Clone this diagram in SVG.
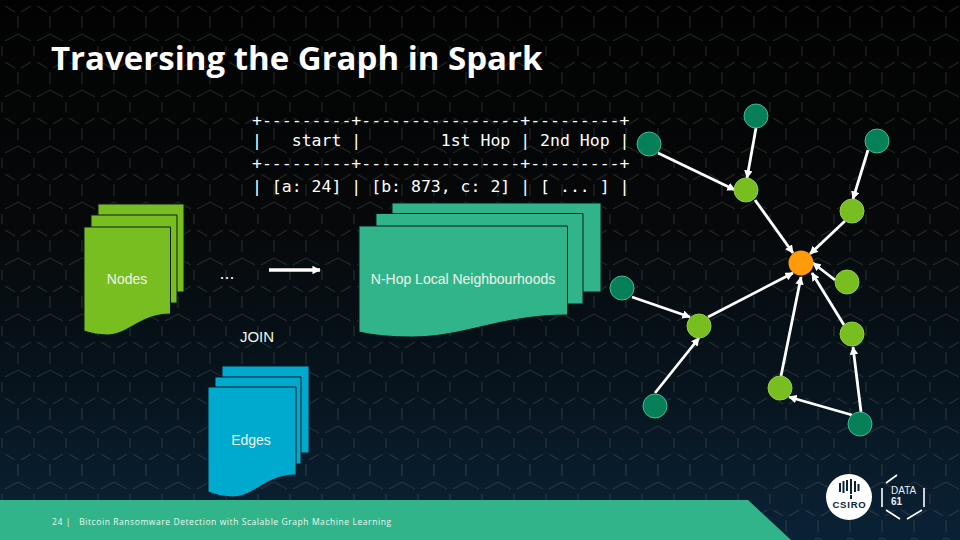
<svg xmlns="http://www.w3.org/2000/svg" width="960" height="540" viewBox="0 0 960 540">
<style>
.sans{font-family:"Liberation Sans",Arial,sans-serif;fill:#eef5ea;font-size:14px;text-anchor:middle}
.mono{font-family:"DejaVu Sans Mono",monospace;fill:#fff;font-size:16.5px;white-space:pre}
.doc{stroke:#0a1a22;stroke-width:1}
.dark{fill:#07805a;stroke:#3fb98f;stroke-width:1}
.light{fill:#78be20;stroke:#8fd040;stroke-width:1}
.edge{stroke:#fff;stroke-width:2.800;fill:none;marker-end:url(#tip)}
</style>
<defs>
<linearGradient id="bg" x1="0" y1="0" x2="0" y2="1">
<stop offset="0" stop-color="#020202"/><stop offset="0.4" stop-color="#060809"/><stop offset="0.7" stop-color="#07131c"/><stop offset="1" stop-color="#0a2236"/>
</linearGradient>
<pattern id="hex" width="32" height="56" patternUnits="userSpaceOnUse" x="2" y="13">
<path d="M16 3V15M16 21L29 28M16 21L3 28M0 33V43M32 33V43M3 49L13 55M29 49L19 55" fill="none" stroke="#8a8a8a" stroke-opacity="0.2" stroke-width="1.4"/>
</pattern>
<marker id="tip" viewBox="0 0 10 10" refX="9" refY="5" markerWidth="3" markerHeight="3" orient="auto"><path d="M0 0L10 5L0 10Z" fill="#fff"/></marker>
<marker id="tipb" viewBox="0 0 10 10" refX="9" refY="5" markerWidth="2.4" markerHeight="3" orient="auto"><path d="M0 0L10 5L0 10Z" fill="#fff"/></marker>
</defs>
<rect width="960" height="540" fill="url(#bg)"/>
<rect width="960" height="540" fill="url(#hex)"/>
<path id="footer" d="M0 500H748L791 540H0Z" fill="#32b48a"/>
<text x="51" y="70" font-family="'Open Sans',sans-serif" font-weight="700" font-size="33" fill="#fff">Traversing the Graph in Spark</text>
<g id="table">
<text class="mono" x="252" y="126">+---------+----------------+---------+</text>
<text class="mono" x="252" y="146">|   start |        1st Hop | 2nd Hop |</text>
<text class="mono" x="252" y="169">+---------+----------------+---------+</text>
<text class="mono" x="252" y="192">| [a: 24] | [b: 873, c: 2] | [ ... ] |</text>
</g>
<g id="nodes-doc">
<path class="doc" fill="#78be20" d="M98 204H184V292H98Z"/>
<path class="doc" fill="#78be20" d="M91 215H177V303H91Z"/>
<path class="doc" fill="#78be20" d="M84 227H170.5V314C140 314 128 335 107 335Q95 335 84 331Z"/>
<text class="sans" x="127" y="284">Nodes</text>
</g>
<g id="hop-doc">
<path class="doc" fill="#32b48a" d="M392 203H601V292H392Z"/>
<path class="doc" fill="#32b48a" d="M376 213.5H583V304H376Z"/>
<path class="doc" fill="#32b48a" d="M359 226H567.5V315C500 315 465 337 412 337Q380 337 359 332Z"/>
<text class="sans" x="463" y="284">N-Hop Local Neighbourhoods</text>
</g>
<g id="edges-doc">
<path class="doc" fill="#00a9ce" d="M222 366H309V453H222Z"/>
<path class="doc" fill="#00a9ce" d="M215 377H301V464H215Z"/>
<path class="doc" fill="#00a9ce" d="M208 387H296V475C265 475 255 497 232 497Q220 497 208 492Z"/>
<text class="sans" x="251" y="445">Edges</text>
</g>
<text id="dots" class="sans" x="227" y="279" style="font-size:18px">...</text>
<text id="join" class="sans" x="257" y="342" style="font-size:15px">JOIN</text>
<g id="connectors">
<path d="M269 270H320" stroke="#fff" stroke-width="3.5" marker-end="url(#tipb)"/>
<path class="edge" d="M658 153L735 190"/>
<path class="edge" d="M756 128L747 178"/>
<path class="edge" d="M868 150L853 199"/>
<path class="edge" d="M755 200L793 253"/>
<path class="edge" d="M845 221L810 254"/>
<path class="edge" d="M835 280L813 263"/>
<path class="edge" d="M844 325L812 273"/>
<path class="edge" d="M781 376L801 277"/>
<path class="edge" d="M708 317L793 273"/>
<path class="edge" d="M632 297L690 317"/>
<path class="edge" d="M655 393L699 338"/>
<path class="edge" d="M852 415L789 397"/>
<path class="edge" d="M861 412L853 347"/>
</g>
<g id="n1"><circle class="dark" cx="649" cy="144" r="12"/></g>
<g id="n2"><circle class="dark" cx="756" cy="116" r="12"/></g>
<g id="n3"><circle class="dark" cx="877" cy="141" r="12"/></g>
<g id="n4"><circle class="dark" cx="622" cy="288" r="12"/></g>
<g id="n5"><circle class="dark" cx="655" cy="406" r="12"/></g>
<g id="n6"><circle class="dark" cx="860" cy="424" r="12"/></g>
<g id="n7"><circle class="light" cx="746" cy="190" r="12"/></g>
<g id="n8"><circle class="light" cx="852" cy="211" r="12"/></g>
<g id="n9"><circle class="light" cx="847" cy="282" r="12"/></g>
<g id="n10"><circle class="light" cx="852" cy="334" r="12"/></g>
<g id="n11"><circle class="light" cx="699" cy="326" r="12"/></g>
<g id="n12"><circle class="light" cx="780" cy="388" r="12"/></g>
<g id="n13"><circle cx="801" cy="263" r="12.5" fill="#ff9a0a"/></g>
<g id="csiro">
<circle cx="849" cy="497" r="23" fill="#fff"/>
<path d="M840 483V492M843.500 481V493M847 480V491M851 479V494M855 481V492M858.500 484V491M851 495V499" stroke="#0a2236" stroke-width="2" fill="none"/>
<text x="849.500" y="508" text-anchor="middle" font-family="'Liberation Sans',sans-serif" font-weight="700" font-size="9.500" letter-spacing="0.8" fill="#0a2236">CSIRO</text>
</g>
<g id="data61">
<path d="M882 488V507M924 488V507M886 483L897 475M886 510L900 519M907 519L922 510" stroke="#fff" stroke-width="1.6" fill="none"/>
<text x="891" y="494" font-family="'Liberation Sans',sans-serif" font-size="10" fill="#e8eef2">DATA</text>
<text x="891" y="505" font-family="'Liberation Sans',sans-serif" font-weight="700" font-size="10" fill="#e8eef2">61</text>
</g>
<text x="52" y="525" font-family="'Open Sans',sans-serif" font-size="8.500" letter-spacing="0.57" fill="#eaf7f2" xml:space="preserve">24 |   Bitcoin Ransomware Detection with Scalable Graph Machine Learning</text>
</svg>
